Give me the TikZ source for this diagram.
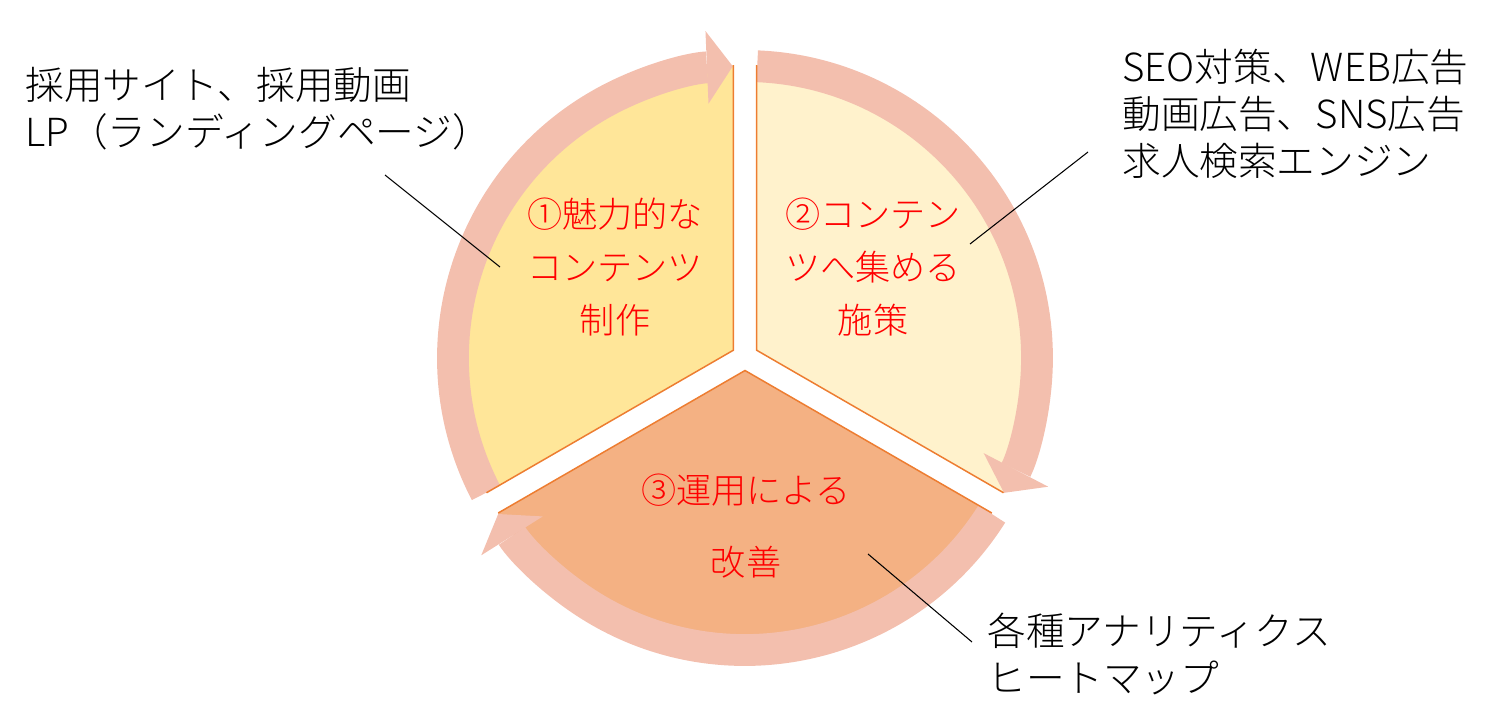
\documentclass[tikz,border=0pt]{standalone}
\usepackage{fontspec}
\IfFontExistsTF{Noto Sans CJK JP Light}{\setmainfont{Noto Sans CJK JP Light}}{\setmainfont{Noto Sans CJK JP}}
\usetikzlibrary{arrows.meta,calc}
\definecolor{ringpink}{RGB}{243,191,174}
\definecolor{part1}{RGB}{255,230,153}
\definecolor{part2}{RGB}{255,242,204}
\definecolor{part3}{RGB}{244,177,131}
\definecolor{edgeorange}{RGB}{237,125,49}
\tikzset{
  ring/.style={line width=18.1pt, draw=ringpink, -{Triangle[width=41.4pt,length=14.7pt,line width=0pt]}},
  cut/.style={draw=edgeorange, line width=0.85pt},
  tag/.style={text=red, font=\fontsize{20}{30}\selectfont, align=center, inner sep=0pt},
  note/.style={font=\fontsize{22}{26.6}\selectfont, align=left, inner sep=0pt, anchor=west},
  leader/.style={draw=black, line width=0.6pt}
}
\begin{document}
\begin{tikzpicture}[x=0.02cm,y=0.02cm]
    \useasboundingbox (0,0) rectangle (1500,718);
    \coordinate (O) at (745,361);
    \coordinate (R) at (745,360);
    \coordinate (A1) at ($(O)+(150:13.5)$);
    \coordinate (A2) at ($(O)+(30:13.5)$);
    \coordinate (A3) at ($(O)+(270:13.5)$);

    % the three parts
    \fill[part1] (A1) -- ++(90:285) arc[start angle=90,end angle=210,radius=285] -- cycle;
    \fill[part2] (A2) -- ++(90:285) arc[start angle=90,end angle=-30,radius=285] -- cycle;
    \fill[part3] (A3) -- ++(210:285) arc[start angle=210,end angle=330,radius=285] -- cycle;

    % the cycle round them
    \draw[ring] ($(R)+(207.5:292)$) arc[start angle=207.5,end angle=92.4,radius=292];
    \draw[ring] ($(R)+(87.6:292)$) arc[start angle=87.6,end angle=-27.5,radius=292];
    \draw[ring] ($(R)+(-32.3:292)$) arc[start angle=-32.3,end angle=-147.7,radius=292];

    \draw[cut] ($(A1)+(90:285)$) -- (A1) -- ($(A1)+(210:285)$);
    \draw[cut] ($(A2)+(90:285)$) -- (A2) -- ($(A2)+(-30:285)$);
    \draw[cut] ($(A3)+(210:285)$) -- (A3) -- ($(A3)+(-30:285)$);

    \node[tag] (T1) at (615,451) {①魅力的な\\コンテンツ\\制作};
    \node[tag] (T2) at (873,451) {②コンテン\\ツへ集める\\施策};
    \node[tag,font=\fontsize{20}{41}\selectfont] (T3) at (746,192) {③運用による\\改善};

    \node[note] (Site) at (25,609) {採用サイト、採用動画\\LP（ランディングページ）};
    \node[note] (Ads) at (1122,604) {SEO対策、WEB広告\\動画広告、SNS広告\\求人検索エンジン};
    \node[note] (Tools) at (987,64) {各種アナリティクス\\ヒートマップ};

    \coordinate (l1) at (385,543);
    \coordinate (p1) at (500,451);
    \coordinate (l2) at (1088,566);
    \coordinate (p2) at (970,474);
    \coordinate (l3) at (972,76);
    \coordinate (p3) at (868,164);
    \draw[leader] (l1) -- (p1);
    \draw[leader] (l2) -- (p2);
    \draw[leader] (l3) -- (p3);
\end{tikzpicture}
\end{document}
